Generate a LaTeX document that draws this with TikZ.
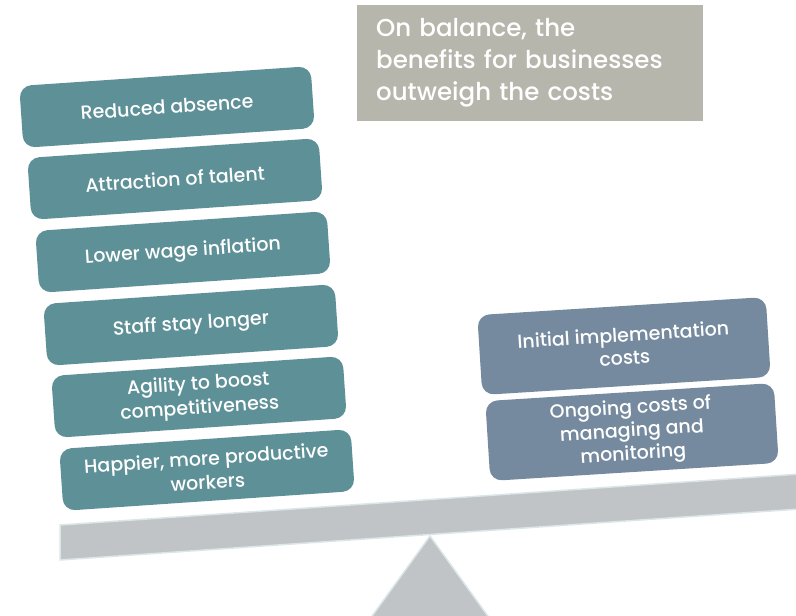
\documentclass[tikz,border=0pt]{standalone}
\usepackage{fontspec}
\setmainfont{Poppins}[UprightFont=* Medium]
\definecolor{proteal}{HTML}{5E9197}
\definecolor{conslate}{HTML}{758A9E}
\definecolor{verdictgray}{HTML}{B6B6AC}
\definecolor{beamgray}{HTML}{C0C4C6}
\definecolor{beamedge}{HTML}{DCE6E8}
\begin{document}
\begin{tikzpicture}[x=1pt,y=-1pt,
        box/.style={rectangle,rounded corners=12pt,text=white,align=center,
            inner sep=2pt},
        pro/.style={box,fill=proteal,minimum width=292pt,minimum height=62pt,
            rotate=3.9,font=\fontsize{19}{24}\selectfont},
        con/.style={box,fill=conslate,minimum width=289pt,minimum height=80pt,
            rotate=3.6,font=\fontsize{19}{23}\selectfont}]
    \useasboundingbox (0,0) rectangle (796,616);
    \clip (0,0) rectangle (796,616);

    % fulcrum and beam
    \draw[beamedge, fill=beamgray, line width=1.5pt] (430,536) -- (362,630) -- (498,630) -- cycle;
    \draw[beamedge, fill=beamgray, line width=1.5pt] (60,525) -- (800,474) -- (800,509) -- (60,560) -- cycle;

    \node[fill=verdictgray, text=white, anchor=north west, minimum width=346pt,
        minimum height=116pt, inner xsep=19pt, text width=308pt, align=left,
        font=\fontsize{24.5}{32}\selectfont] (balance) at (357,5)
        {On balance, the\\benefits for businesses\\outweigh the costs};

    \node[pro] (absence) at (167,107) {Reduced absence};
    \node[pro] (talent) at (175,179) {Attraction of talent};
    \node[pro] (wage) at (183,252) {Lower wage inflation};
    \node[pro] (stay) at (191,325) {Staff stay longer};
    \node[pro] (agility) at (199,397) {Agility to boost\\competitiveness};
    \node[pro] (happier) at (207,470) {Happier, more productive\\workers};

    \node[con] (initial) at (624,346) {Initial implementation\\costs};
    \node[con] (ongoing) at (632,432) {Ongoing costs of\\managing and\\monitoring};
\end{tikzpicture}
\end{document}
